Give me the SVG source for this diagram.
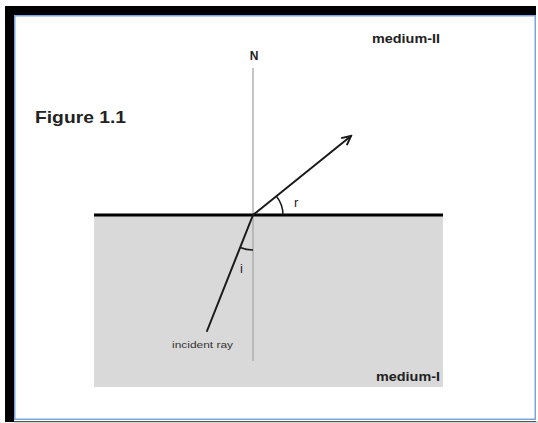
<svg xmlns="http://www.w3.org/2000/svg" width="538" height="423" viewBox="0 0 538 423">
  <style>
    .lbl { font-family: "Liberation Sans", Arial, sans-serif; font-weight: bold; fill: #222; }
    .ang { font-family: "Liberation Sans", Arial, sans-serif; fill: #222; }
    .ray { stroke: #1a1a1a; stroke-width: 2; fill: none; stroke-linecap: round; }
    .arc { stroke: #1a1a1a; stroke-width: 1.5; fill: none; }
  </style>
  <defs>
    <marker id="openArrow" markerWidth="12" markerHeight="12" refX="10" refY="5" orient="auto" markerUnits="userSpaceOnUse">
      <polyline points="1,0.5 10,5 1,9.5" fill="none" stroke="#1a1a1a" stroke-width="2"/>
    </marker>
  </defs>
  <rect x="0" y="0" width="538" height="423" fill="#ffffff"/>
  <g id="frame">
    <rect x="5" y="6" width="531" height="416" fill="#000000"/>
    <rect x="14" y="15" width="522" height="406" fill="#ffffff"/>
    <rect x="14.75" y="15.75" width="520.5" height="403.5" fill="none" stroke="#7ba3dc" stroke-width="1.5"/>
    <line x1="14" y1="422" x2="538" y2="422" stroke="#aaaaaa" stroke-width="1"/>
  </g>
  <g id="medium-I-region">
    <rect x="94" y="215" width="349" height="172" fill="#d9d9d9"/>
  </g>
  <g id="title">
    <text class="lbl" x="35" y="123" font-size="17" textLength="91" lengthAdjust="spacingAndGlyphs">Figure 1.1</text>
  </g>
  <g id="medium-II-label">
    <text class="lbl" x="372" y="43" font-size="12" textLength="68" lengthAdjust="spacingAndGlyphs">medium-II</text>
  </g>
  <g id="medium-I-label">
    <text class="lbl" x="376" y="381" font-size="12" textLength="64" lengthAdjust="spacingAndGlyphs">medium-I</text>
  </g>
  <g id="normal">
    <line x1="253" y1="68" x2="253" y2="361" stroke="#a6a6a6" stroke-width="1.3"/>
    <text class="lbl" x="254" y="60" font-size="12" text-anchor="middle">N</text>
  </g>
  <g id="interface">
    <line x1="94" y1="215" x2="443" y2="215" stroke="#000000" stroke-width="3"/>
  </g>
  <g id="connectors">
    <line class="ray" x1="253" y1="215" x2="351" y2="136" marker-end="url(#openArrow)"/>
    <line class="ray" x1="253" y1="215" x2="207" y2="331"/>
  </g>
  <g id="angle-r">
    <path class="arc" d="M283,215 A30,30 0 0 0 276.4,196.3"/>
    <text class="ang" x="294" y="207" font-size="13">r</text>
  </g>
  <g id="angle-i">
    <path class="arc" d="M240.1,247.5 A35,35 0 0 0 253,250"/>
    <text class="ang" x="240" y="273" font-size="13">i</text>
  </g>
  <g id="incident-label">
    <text x="172" y="348" font-family="Liberation Sans, Arial, sans-serif" font-size="9" fill="#333" textLength="61" lengthAdjust="spacingAndGlyphs">incident ray</text>
  </g>
</svg>
